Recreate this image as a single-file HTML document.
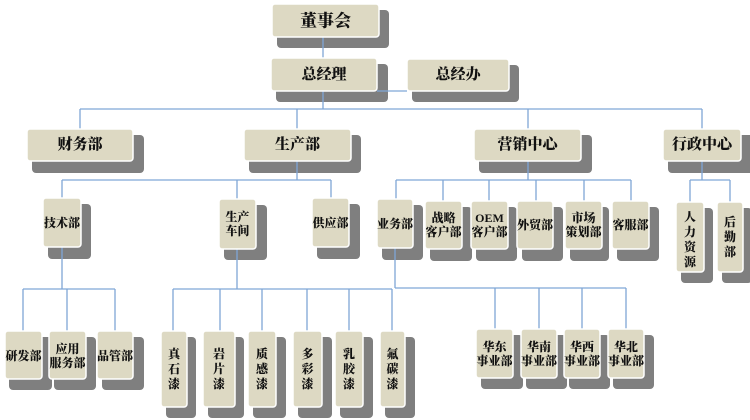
<!DOCTYPE html>
<html><head><meta charset="utf-8">
<style>
html,body{margin:0;padding:0;background:#fff;}
svg{display:block;}
text{font-family:"Liberation Serif","Noto Serif CJK SC","Noto Sans CJK SC",serif;font-weight:900;fill:#111;text-anchor:middle;dominant-baseline:central;}
</style></head>
<body>
<svg width="750" height="420" viewBox="0 0 750 420" xmlns="http://www.w3.org/2000/svg">
<g fill="#7f7f7f">
<rect x="277" y="10" width="112" height="38" rx="4"/>
<rect x="276" y="64" width="112" height="38" rx="4"/>
<rect x="412" y="65" width="107" height="37" rx="4"/>
<rect x="32" y="135" width="112" height="38" rx="4"/>
<rect x="249" y="135" width="112" height="38" rx="4"/>
<rect x="479" y="135" width="113" height="38" rx="4"/>
<rect x="668" y="135" width="90" height="38" rx="4"/>
<rect x="48" y="204" width="43" height="55" rx="4"/>
<rect x="224" y="205" width="43" height="55" rx="4"/>
<rect x="317" y="204" width="43" height="55" rx="4"/>
<rect x="382" y="205" width="41" height="55" rx="4"/>
<rect x="430" y="207" width="42" height="54" rx="4"/>
<rect x="476" y="207" width="41" height="54" rx="4"/>
<rect x="522" y="207" width="41" height="54" rx="4"/>
<rect x="570" y="207" width="39" height="54" rx="4"/>
<rect x="617" y="207" width="42" height="54" rx="4"/>
<rect x="681" y="208" width="32" height="75" rx="4"/>
<rect x="722" y="208" width="30" height="75" rx="4"/>
<rect x="9" y="337" width="43" height="53" rx="4"/>
<rect x="54" y="337" width="42" height="53" rx="4"/>
<rect x="102" y="337" width="42" height="53" rx="4"/>
<rect x="166" y="337" width="30" height="81" rx="4"/>
<rect x="208" y="337" width="36" height="81" rx="4"/>
<rect x="253" y="337" width="33" height="81" rx="4"/>
<rect x="298" y="337" width="34" height="81" rx="4"/>
<rect x="340" y="337" width="33" height="81" rx="4"/>
<rect x="385" y="337" width="30" height="81" rx="4"/>
<rect x="481" y="335" width="42" height="54" rx="4"/>
<rect x="526" y="335" width="41" height="54" rx="4"/>
<rect x="569" y="335" width="41" height="54" rx="4"/>
<rect x="613" y="335" width="41" height="54" rx="4"/>
</g>
<g stroke="#7fa6d6" stroke-width="1.3" fill="none">
<path d="M323 37V58M377 91H407M323 91V109M80 109H702M80 109V129M297 109V129M528 109V129M702 109V129"/>
<path d="M297 161V180M62 180H331M62 180V198M237 180V199M331 180V198"/>
<path d="M528 161V180M396 180H631M396 180V199M443 180V201M489 180V201M536 180V201M584 180V201M631 180V201"/>
<path d="M702 161V180M690 180H730M690 180V202M730 180V202"/>
<path d="M62 247V289M23 289H115M23 289V331M67 289V331M115 289V331"/>
<path d="M237 249V289M173 289H392M173 289V331M220 289V331M262 289V331M307 289V331M349 289V331M392 289V331"/>
<path d="M395 248V288M395 288H626M495 288V329M539 288V329M582 288V329M626 288V329"/>
</g>
<g fill="#ddd9c3" stroke="#fff" stroke-width="1.5">
<rect x="272" y="4" width="107" height="33" rx="3"/>
<rect x="271" y="58" width="106" height="33" rx="3"/>
<rect x="407" y="59" width="102" height="32" rx="3"/>
<rect x="27" y="129" width="106" height="32" rx="3"/>
<rect x="244" y="129" width="107" height="32" rx="3"/>
<rect x="474" y="129" width="107" height="32" rx="3"/>
<rect x="663" y="129" width="78" height="32" rx="3"/>
<rect x="43" y="198" width="38" height="49" rx="3"/>
<rect x="219" y="199" width="37" height="50" rx="3"/>
<rect x="312" y="198" width="37" height="49" rx="3"/>
<rect x="377" y="199" width="36" height="49" rx="3"/>
<rect x="425" y="201" width="37" height="48" rx="3"/>
<rect x="471" y="201" width="37" height="48" rx="3"/>
<rect x="517" y="201" width="36" height="48" rx="3"/>
<rect x="565" y="201" width="37" height="48" rx="3"/>
<rect x="612" y="201" width="37" height="48" rx="3"/>
<rect x="676" y="202" width="28" height="70" rx="3"/>
<rect x="717" y="202" width="26" height="70" rx="3"/>
<rect x="5" y="331" width="37" height="48" rx="3"/>
<rect x="49" y="331" width="37" height="48" rx="3"/>
<rect x="97" y="331" width="36" height="48" rx="3"/>
<rect x="161" y="331" width="26" height="76" rx="3"/>
<rect x="203" y="331" width="32" height="76" rx="3"/>
<rect x="248" y="331" width="28" height="76" rx="3"/>
<rect x="293" y="331" width="29" height="76" rx="3"/>
<rect x="335" y="331" width="28" height="76" rx="3"/>
<rect x="380" y="331" width="25" height="76" rx="3"/>
<rect x="476" y="329" width="37" height="49" rx="3"/>
<rect x="521" y="329" width="36" height="49" rx="3"/>
<rect x="564" y="329" width="36" height="49" rx="3"/>
<rect x="608" y="329" width="36" height="49" rx="3"/>
</g>
<g font-size="17"><text x="325.5" y="21">董事会</text></g>
<g font-size="15">
<text x="324" y="75">总经理</text>
<text x="458" y="75">总经办</text>
<text x="80" y="145">财务部</text>
<text x="297.5" y="145">生产部</text>
<text x="527.5" y="145">营销中心</text>
<text x="702" y="145">行政中心</text>
</g>
<g font-size="12">
<text x="62" y="223">技术部</text>
<text x="237.5" y="217">生产</text><text x="237.5" y="231">车间</text>
<text x="330.5" y="223">供应部</text>
<text x="395" y="224">业务部</text>
<text x="443.5" y="218">战略</text><text x="443.5" y="232">客户部</text>
<text x="489.5" y="218">OEM</text><text x="489.5" y="232">客户部</text>
<text x="535" y="225">外贸部</text>
<text x="583.5" y="218">市场</text><text x="583.5" y="232">策划部</text>
<text x="630.5" y="225">客服部</text>
<text x="690" y="217">人</text><text x="690" y="232">力</text><text x="690" y="247">资</text><text x="690" y="262">源</text>
<text x="730" y="222">后</text><text x="730" y="237">勤</text><text x="730" y="252">部</text>
<text x="23.5" y="356">研发部</text>
<text x="67.5" y="349">应用</text><text x="67.5" y="363">服务部</text>
<text x="115" y="356">品管部</text>
<text x="174" y="354">真</text><text x="174" y="369">石</text><text x="174" y="384">漆</text>
<text x="219" y="354">岩</text><text x="219" y="369">片</text><text x="219" y="384">漆</text>
<text x="262" y="354">质</text><text x="262" y="369">感</text><text x="262" y="384">漆</text>
<text x="307.5" y="354">多</text><text x="307.5" y="369">彩</text><text x="307.5" y="384">漆</text>
<text x="349" y="354">乳</text><text x="349" y="369">胶</text><text x="349" y="384">漆</text>
<text x="392.5" y="354">氟</text><text x="392.5" y="369">碳</text><text x="392.5" y="384">漆</text>
<text x="494.5" y="347">华东</text><text x="494.5" y="361">事业部</text>
<text x="539" y="347">华南</text><text x="539" y="361">事业部</text>
<text x="582" y="347">华西</text><text x="582" y="361">事业部</text>
<text x="626" y="347">华北</text><text x="626" y="361">事业部</text>
</g>
</svg>
</body></html>
